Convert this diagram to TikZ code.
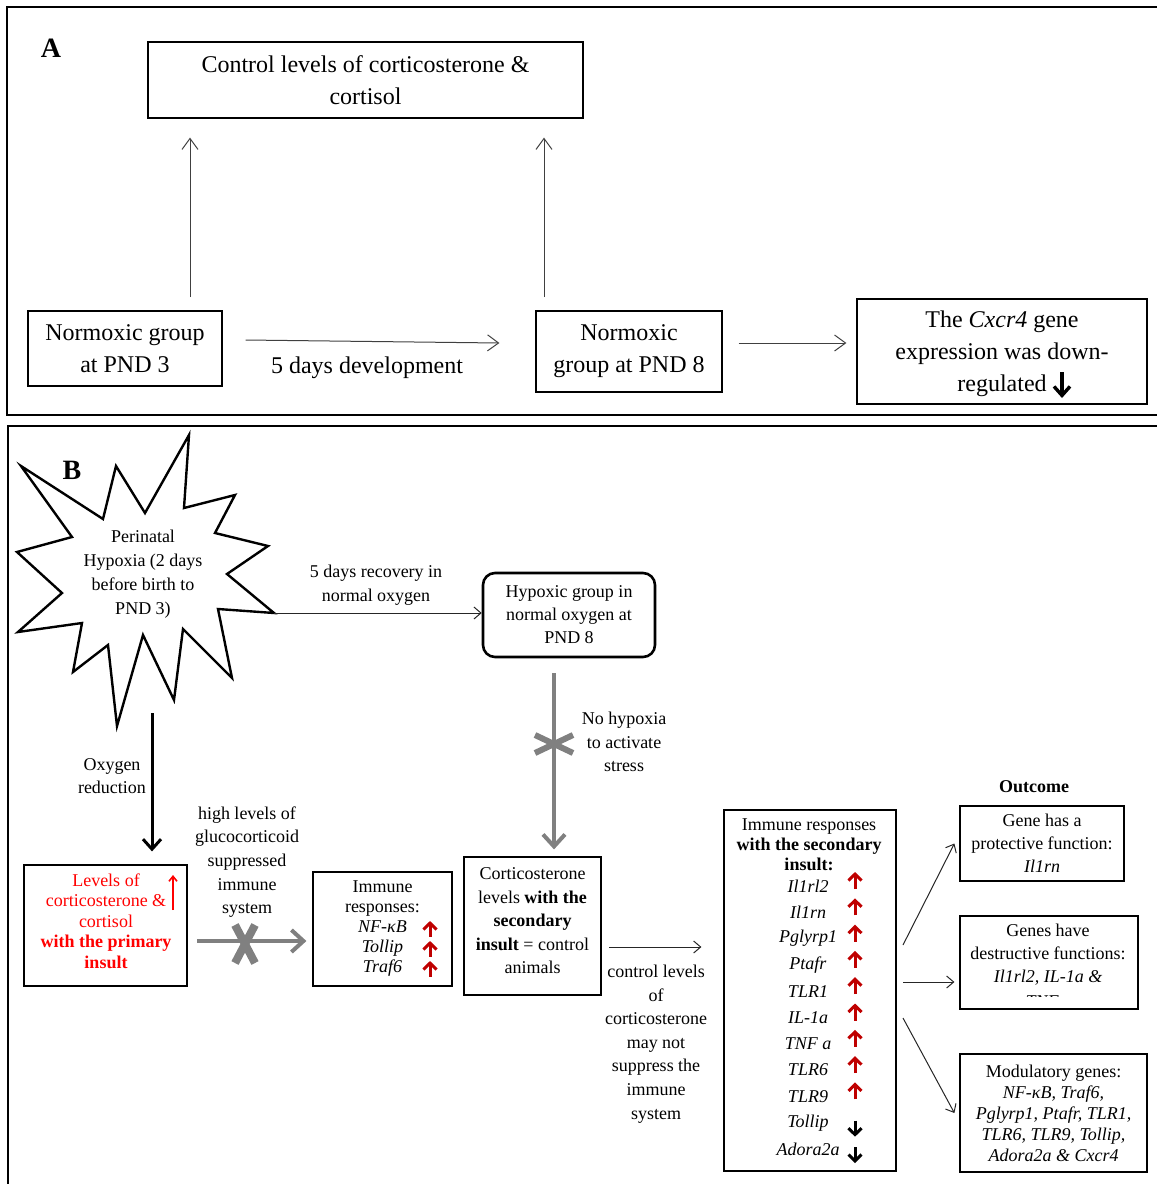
\documentclass[tikz,border=0pt]{standalone}
\usepackage{fontspec}
\setmainfont{Liberation Serif}
\usetikzlibrary{arrows.meta}

\begin{document}
\begin{tikzpicture}[x=0.5pt, y=-0.5pt,
    box/.style={draw, line width=0.6pt, align=center, inner sep=0pt},
    big/.style={font=\fontsize{12}{16}\selectfont},
    small/.style={font=\fontsize{9}{11.7}\selectfont, align=center, inner sep=0pt},
    thin/.style={draw=black!75, line width=0.5pt, -{Straight Barb[length=5.5pt,width=8pt]}},
    thinb/.style={draw=black!85, line width=0.5pt, -{Straight Barb[length=3.5pt,width=6pt]}},
    grayarr/.style={draw=black!50, line width=2pt, -{Straight Barb[length=6pt,width=11pt]}},
    cross/.style={draw=black!50, line width=3.5pt},
    upred/.style={draw=red!75!black, line width=1.5pt, -{Straight Barb[length=3.2pt,width=6.5pt]}},
    dnblk/.style={draw=black, line width=1.5pt, -{Straight Barb[length=3.2pt,width=6.5pt]}},
    panel/.style={font=\bfseries\fontsize{14}{14}\selectfont}
]
\useasboundingbox (0,0) rectangle (1157,1184);
\draw[line width=1pt] (7,7) rectangle (1165,415);
\draw[line width=1.2pt] (8,426) rectangle (1165,1195);

% part A
\node[panel] (lblA) at (51,48) {A};
\node[box, big, minimum width=217.5pt, minimum height=38pt] (ctrl) at (365.5,80) {Control levels of corticosterone \&\\cortisol};
\node[box, big, minimum width=97pt, minimum height=37.5pt] (nor3) at (125,348.5) {Normoxic group\\at PND 3};
\node[box, big, minimum width=93pt, minimum height=40.5pt] (nor8) at (629,351.5) {Normoxic\\group at PND 8};
\node[box, big, minimum width=145pt, minimum height=52.5pt] (cxcr) at (1002,351.5) {};
\node[big, align=center, inner sep=0pt] (cxcrt) at (1002,354) {The \textit{Cxcr4} gene\\expression was down-\\regulated};
\node[big, inner sep=0pt] (dev) at (367,368) {5 days development};
\coordinate (u1) at (190,297);
\coordinate (u2) at (544,297);
\draw[thin, shorten >=9.5pt] (u1) -- (u1 |- ctrl.south);
\draw[thin, shorten >=9.5pt] (u2) -- (u2 |- ctrl.south);
\draw[thin] ([xshift=11.5pt,yshift=4.25pt]nor3.east) -- ([xshift=-18pt,yshift=4.25pt]nor8.west);
\draw[thin] ([xshift=8pt,yshift=4.25pt]nor8.east) -- ([xshift=-5pt,yshift=4.25pt]cxcr.west);
\draw[dnblk, line width=1.7pt, -{Straight Barb[length=4.5pt,width=8pt]}] (1062,372) -- (1062,398);

% part B
\node[panel] (lblB) at (72,470) {B};
\draw[line width=1.2pt] (21,466) -- (103,519) -- (116,466) -- (145,513) -- (189,435) -- (184,508)
    -- (235,495) -- (215,533) -- (268,546) -- (227,574) -- (274,613) -- (218,609) -- (232,678)
    -- (183,629) -- (174,700) -- (143,635) -- (117,726) -- (108,645) -- (73,672) -- (82,623)
    -- (18,632) -- (62,593) -- (17,552) -- (72,537) -- cycle;
\node[small, font=\fontsize{9}{12}\selectfont] (hyp) at (143,574) {Perinatal\\Hypoxia (2 days\\before birth to\\PND 3)};
\coordinate (sR) at (274,613);
\node[box, small, line width=1.3pt, rounded corners=6pt, minimum width=86pt, minimum height=42pt,
    font=\fontsize{9}{11.5}\selectfont] (hgrp) at (569,615) {Hypoxic group in\\normal oxygen at\\PND 8};
\draw[thinb] (sR) -- (sR -| hgrp.west);
\node[small] (rec) at (376,585) {5 days recovery in\\normal oxygen};

\node[box, minimum width=81.5pt, minimum height=60.5pt] (lvl) at (105.5,925.5) {};
\node[small, text=red, font=\fontsize{9}{10.25}\selectfont] (lvlt) at (106,921) {Levels of\\corticosterone \&\\cortisol\\\textbf{with the primary}\\\textbf{insult}};
\draw[red, line width=0.8pt, -{Straight Barb[length=2.5pt,width=4pt]}] (173,910) -- (173,875);
\node[box, small, minimum width=69.5pt, minimum height=57pt,
    font=\fontsize{9}{10}\selectfont] (imm) at (382.5,929) {Immune\\responses:\\\textit{NF-κB}\\\textit{Tollip}\\\textit{Traf6}};
\foreach \y in {929,949,969}
    \draw[upred] (430,\y+7.5) -- (430,\y-8);
\node[box, minimum width=68.5pt, minimum height=69pt] (cort) at (532.5,926) {};
\node[small, font=\fontsize{9}{11.75}\selectfont] (cortt) at (532.5,921) {Corticosterone\\levels \textbf{with the}\\\textbf{secondary}\\\textbf{insult} = control\\animals};

\coordinate (o1) at (152,713);
\draw[line width=1.5pt, -{Straight Barb[length=5pt,width=9pt]}, shorten >=6.5pt] (o1) -- (o1 |- lvl.north);
\node[small, font=\fontsize{9}{11.5}\selectfont] (oxy) at (112,776) {Oxygen\\reduction};

\coordinate (v1) at (554,673);
\draw[grayarr, shorten >=3.5pt] (v1) -- (v1 |- cort.north);
\coordinate (xv) at (554,744);
\draw[cross, line width=3pt] ([shift={(-19,-9)}]xv) -- ([shift={(19,9)}]xv)
    ([shift={(-19,9)}]xv) -- ([shift={(19,-9)}]xv);
\node[small] (nohyp) at (624,742) {No hypoxia\\to activate\\stress};

\node[small, font=\fontsize{9}{11.85}\selectfont] (glu) at (247,862) {high levels of\\glucocorticoid\\suppressed\\immune\\system};
\coordinate (h1) at (197,941);
\draw[grayarr, shorten >=3pt] (h1) -- (h1 -| imm.west);
\coordinate (xh) at (245,944);
\draw[cross, line width=4pt] ([shift={(-10,-19)}]xh) -- ([shift={(10,19)}]xh)
    ([shift={(10,-19)}]xh) -- ([shift={(-10,19)}]xh);

% secondary insult
\node[box, minimum width=86pt, minimum height=180.5pt] (lst) at (810,990.5) {};
\node[small, font=\fontsize{9}{10}\selectfont] (lstt) at (809,845) {Immune responses\\\textbf{with the secondary}\\\textbf{insult:}};
\foreach \g [count=\i] in {Il1rl2, Il1rn, Pglyrp1, Ptafr, TLR1, IL-1a, TNF a, TLR6, TLR9, Tollip, Adora2a}
    \node[small] (g\i) at (808,{886+26.3*(\i-1)}) {\textit{\g}};
\foreach \i in {1,...,9}
    \draw[upred] (855,{889+26.3*(\i-1)}) -- ++(0,-17);
\foreach \i in {10,11}
    \draw[dnblk] (855,{884+26.3*(\i-1)}) -- ++(0,16);

\coordinate (c1) at (609,947);
\draw[thinb, shorten >=11pt] (c1) -- (c1 -| lst.west);
\node[small, font=\fontsize{9}{11.8}\selectfont] (ctl) at (656,1044) {control levels\\of\\corticosterone\\may not\\suppress the\\immune\\system};

% outcome
\node[small, font=\bfseries\fontsize{9}{10}\selectfont] (outc) at (1034,787) {Outcome};
\node[box, small, font=\fontsize{9}{11.5}\selectfont, minimum width=82pt, minimum height=37.5pt] (out1) at (1042,843.5) {Gene has a\\protective function:\\\textit{Il1rn}};
\node[box, minimum width=89pt, minimum height=46.5pt] (out2) at (1049,962.5) {};
\node[small, font=\fontsize{9}{11.5}\selectfont] (out2t) at (1048,955) {Genes have\\destructive functions:\\\textit{Il1rl2, IL-1a \&}};
\begin{scope}
    \clip (962,985) rectangle (1136,996);
    \node[small] (out2c) at (1047,1002) {\textit{TNFα}};
\end{scope}
\node[box, small, font=\fontsize{9}{10.5}\selectfont, minimum width=93.5pt, minimum height=59pt] (out3) at (1053.5,1113) {Modulatory genes:\\\textit{NF-κB, Traf6,}\\\textit{Pglyrp1, Ptafr, TLR1,}\\\textit{TLR6, TLR9, Tollip,}\\\textit{Adora2a \& Cxcr4}};
\coordinate (l1) at (903,945);
\coordinate (l2) at (903,982);
\coordinate (l3) at (903,1018);
\draw[thinb] (l1) -- ([xshift=-2.5pt]out1.west);
\draw[thinb, shorten >=2.5pt] (l2) -- (l2 -| out2.west);
\draw[thinb] (l3) -- ([xshift=-2.5pt]out3.west);
\end{tikzpicture}
\end{document}
